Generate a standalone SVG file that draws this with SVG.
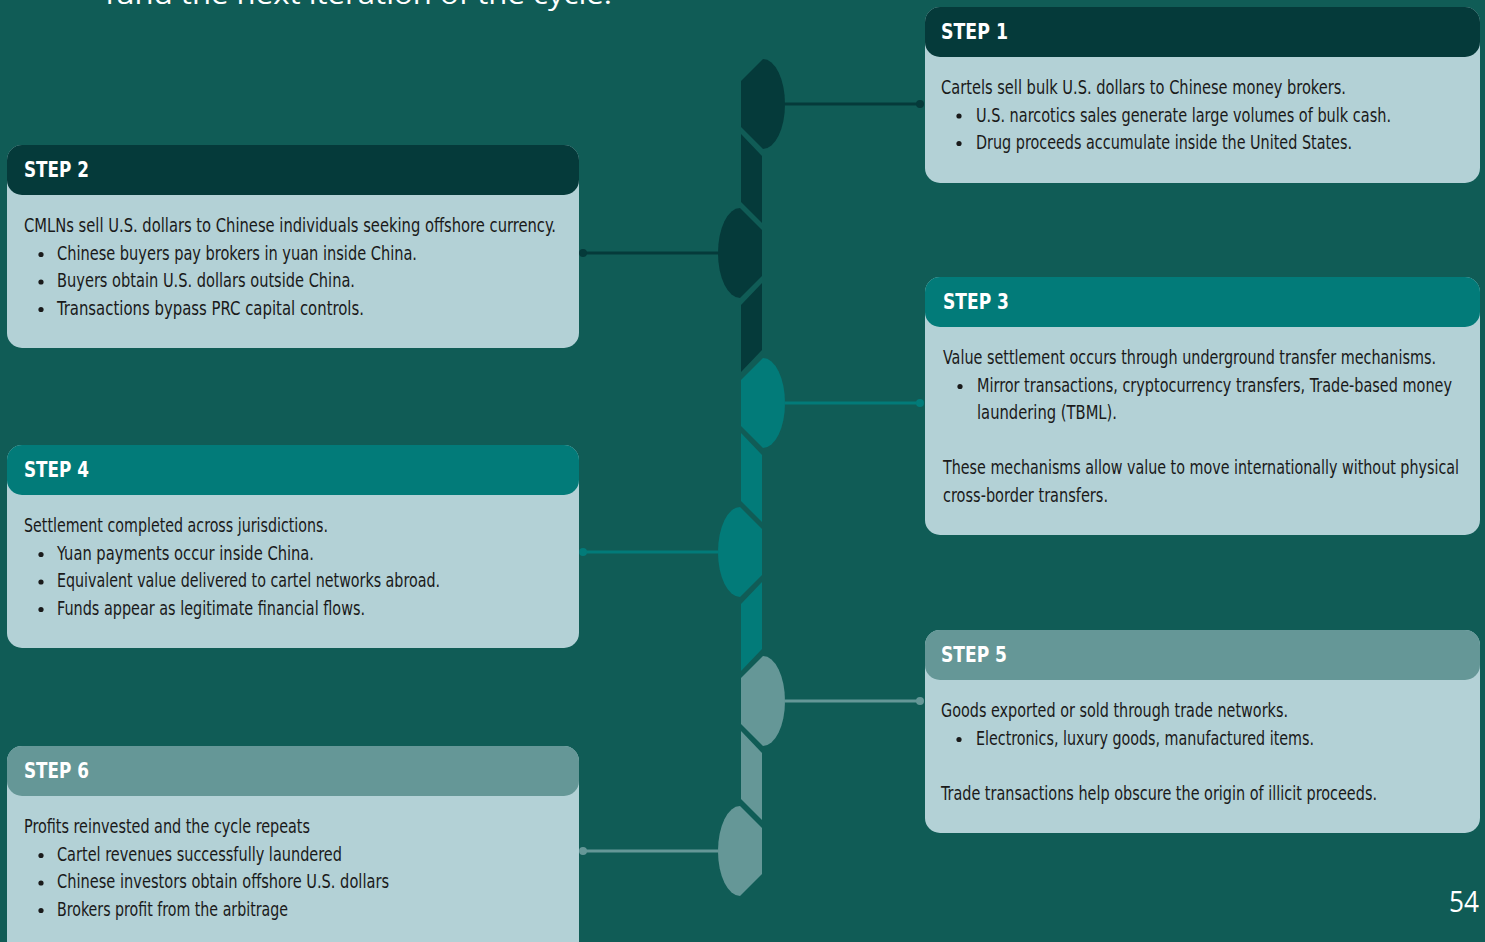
<svg xmlns="http://www.w3.org/2000/svg" width="1485" height="942" viewBox="0 0 1485 942">
<style>
.bg{fill:#105C56}
.body{fill:#B3D1D6}
.c1{fill:#053A3A}
.c2{fill:#027B79}
.c3{fill:#659797}
.l1{stroke:#053A3A}
.l2{stroke:#027B79}
.l3{stroke:#659797}
.ln{stroke-width:3;fill:none}
.hd{font-family:"Liberation Sans Narrow","DejaVu Sans Condensed","Liberation Sans",sans-serif;font-weight:bold;font-size:22px;fill:#FFFFFF}
.tx{font-family:"Liberation Sans Narrow","DejaVu Sans Condensed","Liberation Sans",sans-serif;font-size:19.5px;fill:#1A1A1A}
.bul{fill:#1A1A1A}
.top{font-family:"Open Sans","Noto Sans",sans-serif;fill:#FFFFFF}
</style>
<rect class="bg" x="0" y="0" width="1485" height="942"/>
<text class="top" x="105" y="4" font-size="28" textLength="507" lengthAdjust="spacingAndGlyphs">fund the next iteration of the cycle.</text>

<g id="spine">
<path class="c1" d="M763,59 L741,81 L741,127 L763,149 A22,45 0 0 0 763,59 Z"/>
<path class="c1" d="M741,134 L762,156 L762,223 L741,202 Z"/>
<path class="c1" d="M740,208 L762,230 L762,276 L740,298 A22,45 0 0 1 740,208 Z"/>
<path class="c1" d="M762,283 L741,305 L741,372 L762,350 Z"/>
<path class="c2" d="M763,358 L741,380 L741,426 L763,448 A22,45 0 0 0 763,358 Z"/>
<path class="c2" d="M741,433 L762,455 L762,522 L741,501 Z"/>
<path class="c2" d="M740,507 L762,529 L762,575 L740,597 A22,45 0 0 1 740,507 Z"/>
<path class="c2" d="M762,582 L741,604 L741,671 L762,649 Z"/>
<path class="c3" d="M763,656 L741,678 L741,724 L763,746 A22,45 0 0 0 763,656 Z"/>
<path class="c3" d="M741,731 L762,753 L762,820 L741,799 Z"/>
<path class="c3" d="M740,806 L762,828 L762,874 L740,896 A22,45 0 0 1 740,806 Z"/>
</g>

<g id="connectors">
<line class="ln l1" x1="785" y1="104" x2="920" y2="104"/>
<circle class="c1" cx="920" cy="104" r="4"/>
<line class="ln l1" x1="583" y1="253" x2="718" y2="253"/>
<circle class="c1" cx="583" cy="253" r="4"/>
<line class="ln l2" x1="785" y1="403" x2="920" y2="403"/>
<circle class="c2" cx="920" cy="403" r="4"/>
<line class="ln l2" x1="583" y1="552" x2="718" y2="552"/>
<circle class="c2" cx="583" cy="552" r="4"/>
<line class="ln l3" x1="785" y1="701" x2="920" y2="701"/>
<circle class="c3" cx="920" cy="701" r="4"/>
<line class="ln l3" x1="583" y1="851" x2="718" y2="851"/>
<circle class="c3" cx="583" cy="851" r="4"/>
</g>

<g id="step1">
<rect class="body" x="925" y="7" width="555" height="176" rx="15"/>
<rect class="c1" x="925" y="7" width="555" height="50" rx="15"/>
<text class="hd" x="941" y="39" textLength="67" lengthAdjust="spacingAndGlyphs">STEP 1</text>
<text class="tx" x="941" y="94" textLength="405" lengthAdjust="spacingAndGlyphs">Cartels sell bulk U.S. dollars to Chinese money brokers.</text>
<circle class="bul" cx="959" cy="116" r="2.6"/>
<text class="tx" x="976" y="121.5" textLength="415" lengthAdjust="spacingAndGlyphs">U.S. narcotics sales generate large volumes of bulk cash.</text>
<circle class="bul" cx="959" cy="143.5" r="2.6"/>
<text class="tx" x="976" y="149" textLength="376" lengthAdjust="spacingAndGlyphs">Drug proceeds accumulate inside the United States.</text>
</g>

<g id="step2">
<rect class="body" x="7" y="145" width="572" height="203" rx="15"/>
<rect class="c1" x="7" y="145" width="572" height="50" rx="15"/>
<text class="hd" x="24" y="177" textLength="65" lengthAdjust="spacingAndGlyphs">STEP 2</text>
<text class="tx" x="24" y="232" textLength="532" lengthAdjust="spacingAndGlyphs">CMLNs sell U.S. dollars to Chinese individuals seeking offshore currency.</text>
<circle class="bul" cx="41" cy="254.5" r="2.6"/>
<text class="tx" x="57" y="259.5" textLength="360" lengthAdjust="spacingAndGlyphs">Chinese buyers pay brokers in yuan inside China.</text>
<circle class="bul" cx="41" cy="282" r="2.6"/>
<text class="tx" x="57" y="287" textLength="298" lengthAdjust="spacingAndGlyphs">Buyers obtain U.S. dollars outside China.</text>
<circle class="bul" cx="41" cy="309.5" r="2.6"/>
<text class="tx" x="57" y="314.5" textLength="307" lengthAdjust="spacingAndGlyphs">Transactions bypass PRC capital controls.</text>
</g>

<g id="step3">
<rect class="body" x="925" y="277" width="555" height="258" rx="15"/>
<rect class="c2" x="925" y="277" width="555" height="50" rx="15"/>
<text class="hd" x="943" y="309" textLength="66" lengthAdjust="spacingAndGlyphs">STEP 3</text>
<text class="tx" x="943" y="364" textLength="493" lengthAdjust="spacingAndGlyphs">Value settlement occurs through underground transfer mechanisms.</text>
<circle class="bul" cx="960" cy="386.5" r="2.6"/>
<text class="tx" x="977" y="391.5" textLength="475" lengthAdjust="spacingAndGlyphs">Mirror transactions, cryptocurrency transfers, Trade-based money</text>
<text class="tx" x="977" y="419" textLength="140" lengthAdjust="spacingAndGlyphs">laundering (TBML).</text>
<text class="tx" x="943" y="474" textLength="516" lengthAdjust="spacingAndGlyphs">These mechanisms allow value to move internationally without physical</text>
<text class="tx" x="943" y="501.5" textLength="165" lengthAdjust="spacingAndGlyphs">cross-border transfers.</text>
</g>

<g id="step4">
<rect class="body" x="7" y="445" width="572" height="203" rx="15"/>
<rect class="c2" x="7" y="445" width="572" height="50" rx="15"/>
<text class="hd" x="24" y="477" textLength="65" lengthAdjust="spacingAndGlyphs">STEP 4</text>
<text class="tx" x="24" y="532" textLength="304" lengthAdjust="spacingAndGlyphs">Settlement completed across jurisdictions.</text>
<circle class="bul" cx="41" cy="554.5" r="2.6"/>
<text class="tx" x="57" y="559.5" textLength="257" lengthAdjust="spacingAndGlyphs">Yuan payments occur inside China.</text>
<circle class="bul" cx="41" cy="582" r="2.6"/>
<text class="tx" x="57" y="587" textLength="383" lengthAdjust="spacingAndGlyphs">Equivalent value delivered to cartel networks abroad.</text>
<circle class="bul" cx="41" cy="609.5" r="2.6"/>
<text class="tx" x="57" y="614.5" textLength="308" lengthAdjust="spacingAndGlyphs">Funds appear as legitimate financial flows.</text>
</g>

<g id="step5">
<rect class="body" x="925" y="630" width="555" height="203" rx="15"/>
<rect class="c3" x="925" y="630" width="555" height="50" rx="15"/>
<text class="hd" x="941" y="662" textLength="66" lengthAdjust="spacingAndGlyphs">STEP 5</text>
<text class="tx" x="941" y="717" textLength="347" lengthAdjust="spacingAndGlyphs">Goods exported or sold through trade networks.</text>
<circle class="bul" cx="959" cy="739.5" r="2.6"/>
<text class="tx" x="976" y="744.5" textLength="338" lengthAdjust="spacingAndGlyphs">Electronics, luxury goods, manufactured items.</text>
<text class="tx" x="941" y="799.5" textLength="436" lengthAdjust="spacingAndGlyphs">Trade transactions help obscure the origin of illicit proceeds.</text>
</g>

<g id="step6">
<rect class="body" x="7" y="746" width="572" height="215" rx="15"/>
<rect class="c3" x="7" y="746" width="572" height="50" rx="15"/>
<text class="hd" x="24" y="778" textLength="65" lengthAdjust="spacingAndGlyphs">STEP 6</text>
<text class="tx" x="24" y="833" textLength="286" lengthAdjust="spacingAndGlyphs">Profits reinvested and the cycle repeats</text>
<circle class="bul" cx="41" cy="855.5" r="2.6"/>
<text class="tx" x="57" y="860.5" textLength="285" lengthAdjust="spacingAndGlyphs">Cartel revenues successfully laundered</text>
<circle class="bul" cx="41" cy="883" r="2.6"/>
<text class="tx" x="57" y="888" textLength="332" lengthAdjust="spacingAndGlyphs">Chinese investors obtain offshore U.S. dollars</text>
<circle class="bul" cx="41" cy="910.5" r="2.6"/>
<text class="tx" x="57" y="915.5" textLength="231" lengthAdjust="spacingAndGlyphs">Brokers profit from the arbitrage</text>
</g>

<text class="top" x="1449" y="912" font-size="29" textLength="30" lengthAdjust="spacingAndGlyphs">54</text>
</svg>
